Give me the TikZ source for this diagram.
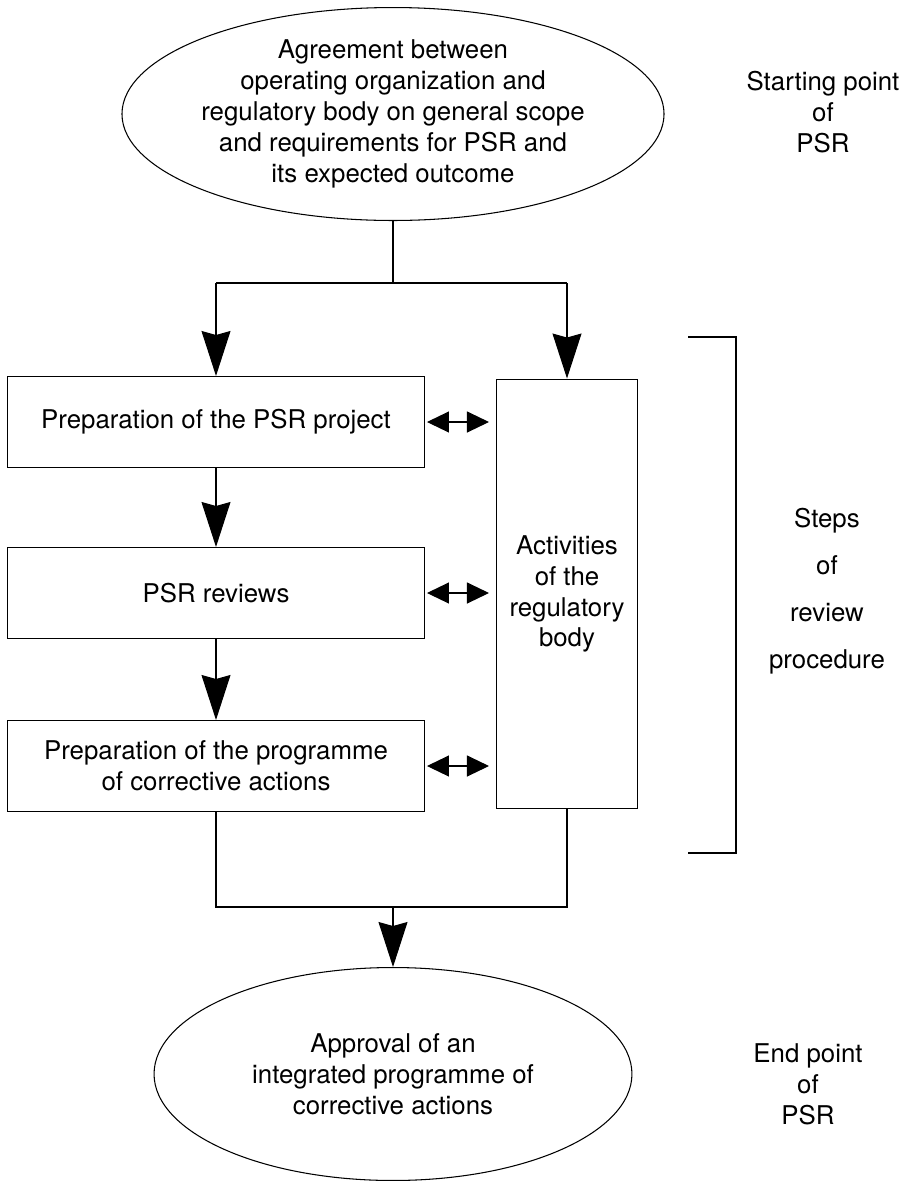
\documentclass[tikz,border=0pt]{standalone}
\usepackage{fontspec}
\setmainfont{TeX Gyre Heros}
\usetikzlibrary{shapes.geometric,arrows.meta}
\tikzset{
  txt/.style={font=\fontsize{14.7}{17.6}\selectfont, align=center, inner sep=0pt},
  oval/.style={txt, ellipse, draw, minimum width=9.56cm, minimum height=4.26cm},
  stepbox/.style={txt, draw, minimum width=8.36cm, minimum height=1.82cm},
  bigarrow/.style={-{Stealth[length=0.9cm,width=0.58cm,inset=0.08cm]}},
  dblarrow/.style={{Triangle[length=0.44cm,width=0.42cm]}-{Triangle[length=0.44cm,width=0.42cm]}},
}
\begin{document}
\begin{tikzpicture}[x=0.02cm,y=-0.02cm,line width=0.6pt]
\useasboundingbox (0,0) rectangle (912,1181);
% start and end of the review
\node[oval] (agree) at (393,114) {Agreement between\\operating organization and\\regulatory body on general scope\\and requirements for PSR and\\its expected outcome};
\node[oval] (approve) at (393,1074) {Approval of an\\integrated programme of\\corrective actions};
%
\node[stepbox] (prep) at (216,422) {Preparation of the PSR project};
\node[stepbox] (reviews) at (216,593) {PSR reviews};
\node[stepbox] (corr) at (216,766) {Preparation of the programme\\of corrective actions};
\node[txt, draw, minimum width=2.82cm, minimum height=8.6cm] (act) at (567,594) {Activities\\of the\\regulatory\\body};
%
\node[txt] (start) at (823,112) {Starting point\\of\\PSR};
\node[txt, font=\fontsize{14.7}{26.7}\selectfont] (steps) at (827,591) {Steps\\of\\review\\procedure};
\node[txt] (endpt) at (808,1084) {End point\\of\\PSR};
%
\coordinate (split) at (393,283);
\coordinate (splitL) at (216,283);
\coordinate (splitR) at (567,283);
\draw (agree.south) -- (split);
\draw (splitL) -- (splitR);
\draw[bigarrow] (splitL) -- (prep.north);
\draw[bigarrow] (splitR) -- (act.north);
%
\draw[bigarrow] (prep.south) -- (reviews.north);
\draw[bigarrow] (reviews.south) -- (corr.north);
%
\draw[dblarrow] ([xshift=0.03cm]prep.east) -- ([xshift=-0.14cm]prep.east -| act.west);
\draw[dblarrow] ([xshift=0.03cm]reviews.east) -- ([xshift=-0.14cm]reviews.east -| act.west);
\draw[dblarrow] ([xshift=0.03cm]corr.east) -- ([xshift=-0.14cm]corr.east -| act.west);
%
\coordinate (joinL) at (216,907);
\coordinate (joinR) at (567,907);
\coordinate (join) at (393,907);
\draw (corr.south) -- (joinL) -- (joinR) -- (act.south);
\draw[bigarrow] (join) -- (approve.north);
%
\coordinate (brtop) at (688,337);
\coordinate (brbot) at (688,853);
\draw (brtop) -- ++(48,0) |- (brbot);
\end{tikzpicture}
\end{document}
